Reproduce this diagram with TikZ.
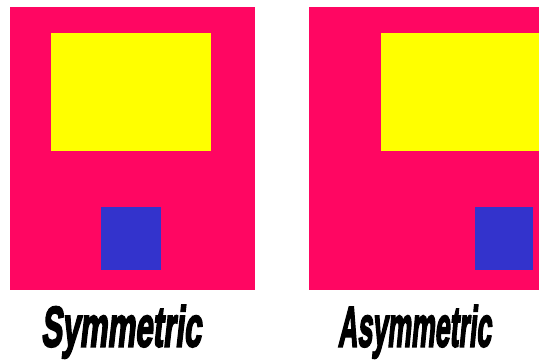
\documentclass[tikz,border=0pt]{standalone}
\usepackage{fontspec}
\usepackage{graphicx}
\newfontfamily\labfont[FakeBold=4,FakeSlant=0.2]{Liberation Sans Bold}
\definecolor{pinkbg}{HTML}{FF0662}
\definecolor{yel}{HTML}{FFFF00}
\definecolor{blu}{HTML}{3333CC}
\tikzset{
  panel/.style={fill=pinkbg, draw=none},
  bigbox/.style={fill=yel, draw=none},
  smallbox/.style={fill=blu, draw=none},
  lab/.style={inner sep=0pt, anchor=north, text=black}
}
\begin{document}
\begin{tikzpicture}[x=1pt,y=-1pt]
\useasboundingbox (0,0) rectangle (543,360);
\fill[white] (0,0) rectangle (543,360);
% left panel
\path[panel] (10,7) rectangle (255,290);
\path[bigbox] (51,33) rectangle (211,151);
\path[smallbox] (101,207) rectangle (161,270);
% right panel
\path[panel] (309,7) rectangle (539,290);
\path[bigbox] (381,33) rectangle (539,151);
\path[smallbox] (475,207) rectangle (533,270);
% labels
\node[lab] (sym) at (121,305) {\resizebox*{160pt}{53pt}{\labfont Symmetric}};
\node[lab] (asym) at (414.5,305) {\resizebox*{153pt}{53pt}{\labfont Asymmetric}};
\end{tikzpicture}
\end{document}
